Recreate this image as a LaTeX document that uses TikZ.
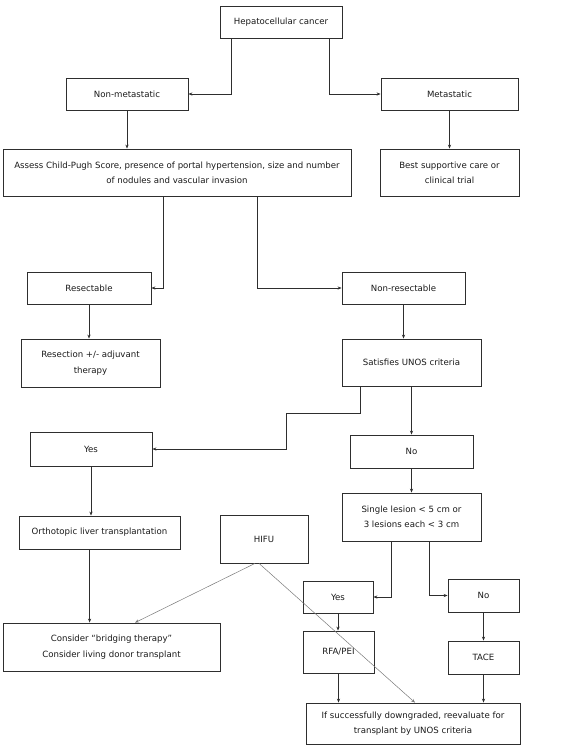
\documentclass[tikz,border=0pt]{standalone}
\usepackage{fontspec}
\setmainfont{DejaVu Sans}
\usetikzlibrary{arrows.meta}

\definecolor{linegray}{HTML}{2E2E2E}
\definecolor{diaggray}{HTML}{7A7A7A}

\begin{document}
\begin{tikzpicture}[x=1pt,y=-1pt]

      \useasboundingbox (0,0) rectangle (562,750);

      \begin{scope}[every node/.style={rectangle,draw=linegray,line width=0.8pt,inner sep=0pt,
          align=center,text=black!90,font=\fontsize{8.6}{15.3}\selectfont}]
        \node[minimum width=122pt,minimum height=32pt] (hcc)       at (281,22)    {Hepatocellular cancer};
        \node[minimum width=122pt,minimum height=32pt] (nonmet)    at (127,94)    {Non-metastatic};
        \node[minimum width=137pt,minimum height=32pt] (met)       at (449.5,94)  {Metastatic};
        \node[minimum width=348pt,minimum height=47pt] (assess)    at (177,172.5) {Assess Child-Pugh Score, presence of portal hypertension, size and number\\of nodules and vascular invasion};
        \node[minimum width=139pt,minimum height=47pt] (best)      at (449.5,172.5) {Best supportive care or\\clinical trial};
        \node[minimum width=124pt,minimum height=32pt] (resect)    at (89,288)    {Resectable};
        \node[minimum width=123pt,minimum height=32pt] (nonres)    at (403.5,288) {Non-resectable};
        \node[minimum width=139pt,minimum height=48pt] (resection) at (90.5,363)  {Resection +/- adjuvant\\therapy};
        \node[minimum width=139pt,minimum height=47pt] (unos)      at (411.5,362.5) {Satisfies UNOS criteria};
        \node[minimum width=122pt,minimum height=34pt] (yes)       at (91,449)    {Yes};
        \node[minimum width=123pt,minimum height=33pt] (no)        at (411.5,451.5) {No};
        \node[minimum width=161pt,minimum height=33pt] (ortho)     at (99.5,532.5) {Orthotopic liver transplantation};
        \node[minimum width=139pt,minimum height=48pt] (single)    at (411.5,517) {Single lesion < 5 cm or\\3 lesions each < 3 cm};
        \node[minimum width=88pt,minimum height=48pt]  (hifu)      at (264,539)   {HIFU};
        \node[minimum width=70pt,minimum height=32pt]  (yes2)      at (338,597)   {Yes};
        \node[minimum width=71pt,minimum height=33pt]  (no2)       at (483.5,595.5) {No};
        \node[minimum width=71pt,minimum height=42pt]  (rfa)       at (338.5,652) {RFA/PEI};
        \node[minimum width=71pt,minimum height=33pt]  (tace)      at (483.5,657.5) {TACE};
        \node[minimum width=217pt,minimum height=48pt] (consider)  at (111.5,647) {Consider ``bridging therapy''\\Consider living donor transplant};
        \node[minimum width=214pt,minimum height=41pt] (final)     at (413,723.5) {If successfully downgraded, reevaluate for\\transplant by UNOS criteria};
      \end{scope}

      \coordinate (bend) at (286,413);

      \begin{scope}[line width=0.7pt,draw=linegray,>={Stealth[length=4pt,width=3.2pt]}]

        % elbow connectors
        \draw[->] ([xshift=12pt]hcc.south west)     |- (nonmet.east);
        \draw[->] ([xshift=-13pt]hcc.south east)    |- (met.west);
        \draw[->] ([xshift=161pt]assess.south west) |- (resect.east);
        \draw[->] ([xshift=255pt]assess.south west) |- (nonres.west);
        \draw[->] ([xshift=19pt]unos.south west)    |- (bend) |- (yes.east);
        \draw[->] ([xshift=50pt]single.south west)  |- (yes2.east);
        \draw[->] ([xshift=-52pt]single.south east) |- (no2.west);

        % straight connectors
        \begin{scope}[every edge/.style={draw,->}]
          \path (nonmet.south) edge (nonmet.south |- assess.north);
          \path (met.south)    edge (met.south |- best.north);
          \path (resect.south) edge (resect.south |- resection.north);
          \path (nonres.south) edge (nonres.south |- unos.north);
          \path (unos.south)   edge (unos.south |- no.north);
          \path (yes.south)    edge (yes.south |- ortho.north);
          \path (no.south)     edge (no.south |- single.north);
          \path ([xshift=71pt]ortho.south west) edge ([xshift=71pt]ortho.south west |- consider.north);
          \path (yes2.south)   edge (yes2.south |- rfa.north);
          \path (no2.south)    edge (no2.south |- tace.north);
          \path (rfa.south)    edge (rfa.south |- final.north);
          \path (tace.south)   edge (tace.south |- final.north);
        \end{scope}

        % from HIFU
        \begin{scope}[every edge/.style={draw=diaggray,line width=0.5pt,->}]
          \path ([xshift=-9pt]hifu.south) edge ([xshift=23.5pt]consider.north);
          \path ([xshift=-5pt]hifu.south) edge ([xshift=2pt]final.north);
        \end{scope}

      \end{scope}

    \end{tikzpicture}
\end{document}
